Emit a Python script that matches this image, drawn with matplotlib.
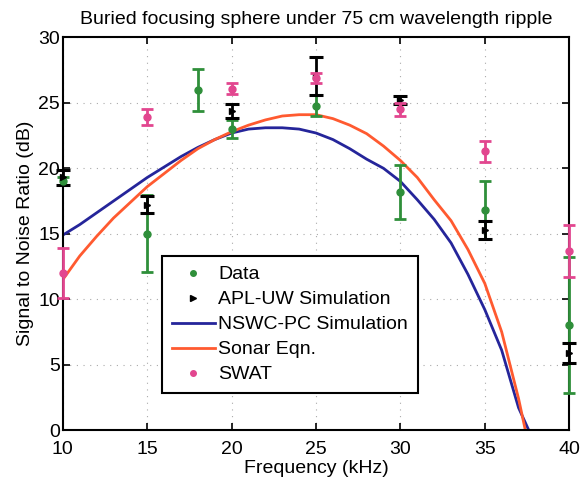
import numpy as np
import matplotlib
matplotlib.use("Agg")
import matplotlib.pyplot as plt
from matplotlib.lines import Line2D

plt.rcParams['font.family'] = ['Liberation Sans', 'DejaVu Sans']

# measured data (green)
data_f = [10, 15, 18, 20, 25, 30, 35, 40]
data_snr = [19.0, 15.0, 26.0, 23.0, 24.8, 18.2, 16.8, 8.0]
data_err = [0.3, 2.95, 1.6, 0.7, 0.8, 2.05, 2.2, 5.2]

# APL-UW simulation (black)
apl_f = [10, 15, 20, 25, 30, 35, 40]
apl_snr = [19.3, 17.2, 24.4, 27.05, 25.2, 15.3, 5.9]
apl_err = [0.6, 0.65, 0.55, 1.45, 0.3, 0.7, 0.75]

# SWAT (pink)
swat_f = [10, 15, 20, 25, 30, 35, 40]
swat_snr = [12.0, 23.9, 26.1, 26.9, 24.5, 21.3, 13.7]
swat_err = [1.9, 0.6, 0.45, 0.4, 0.5, 0.8, 2.0]

# NSWC-PC simulation curve (blue)
nswc_f = [10, 11, 12, 13, 14, 15, 16, 17, 18, 19, 20, 21, 22, 23, 24, 25,
          26, 27, 28, 29, 30, 31, 32, 33, 34, 35, 36, 37, 37.6]
nswc_snr = [14.9, 15.7, 16.6, 17.5, 18.4, 19.3, 20.1, 20.9, 21.6, 22.2, 22.7,
            23.0, 23.1, 23.1, 23.0, 22.7, 22.2, 21.5, 20.7, 20.0, 19.0, 17.6,
            16.1, 14.3, 11.9, 9.2, 6.1, 1.7, 0.0]

# sonar equation curve (orange)
sonar_f = [10, 11, 12, 13, 14, 15, 16, 17, 18, 19, 20, 21, 22, 23, 24, 25,
           26, 27, 28, 29, 30, 31, 32, 33, 34, 35, 36, 37, 37.4]
sonar_snr = [11.5, 13.3, 14.8, 16.2, 17.4, 18.6, 19.6, 20.6, 21.5, 22.2, 22.8,
             23.3, 23.7, 24.0, 24.1, 24.1, 23.8, 23.3, 22.65, 21.7, 20.6, 19.3,
             17.6, 16.0, 13.8, 11.2, 7.5, 2.4, 0.0]

green = '#2f8f3a'
blue = '#25259a'
orange = '#ff5a30'
pink = '#e2468f'

fig = plt.figure(figsize=(5.82, 4.87), dpi=100)
ax = fig.add_axes([0.108, 0.117, 0.87, 0.806])

ax.errorbar(data_f, data_snr, yerr=data_err, fmt='o', color=green, ms=5,
            elinewidth=2, capsize=4, capthick=2, clip_on=False, zorder=3)
ax.errorbar(apl_f, apl_snr, yerr=apl_err, fmt='>', color='black', ms=5,
            elinewidth=2, capsize=5, capthick=2.2, clip_on=False, zorder=3)
ax.plot(nswc_f, nswc_snr, color=blue, lw=2, zorder=2)
ax.plot(sonar_f, sonar_snr, color=orange, lw=2, zorder=2)
ax.errorbar(swat_f, swat_snr, yerr=swat_err, fmt='o', color=pink, ms=5,
            elinewidth=2, capsize=4, capthick=2, clip_on=False, zorder=4)

ax.set_xlim(10, 40)
ax.set_ylim(0, 30)
ax.set_xticks(np.arange(10, 41, 5))
ax.set_yticks(np.arange(0, 31, 5))
ax.grid(True, linestyle=(0, (1, 5)), color='#aaaaaa', lw=0.8)
ax.tick_params(direction='in', top=True, right=True, labelsize=14,
               length=5, width=1.2, pad=2)
ax.tick_params(axis='x', pad=8)
for s in ax.spines.values():
    s.set_linewidth(1.5)

ax.set_title('Buried focusing sphere under 75 cm wavelength ripple',
             fontsize=14, pad=10)
ax.set_xlabel('Frequency (kHz)', fontsize=14, labelpad=1)
ax.set_ylabel('Signal to Noise Ratio (dB)', fontsize=14, labelpad=3)

handles = [
    Line2D([], [], ls='none', marker='o', color=green, ms=4),
    Line2D([], [], ls='none', marker='>', color='black', ms=4),
    Line2D([], [], color=blue, lw=2),
    Line2D([], [], color=orange, lw=2),
    Line2D([], [], ls='none', marker='o', color=pink, ms=4),
]
labels = ['Data', 'APL-UW Simulation', 'NSWC-PC Simulation', 'Sonar Eqn.', 'SWAT']
leg = ax.legend(handles, labels, loc='lower left', bbox_to_anchor=(0.196, 0.094),
                fontsize=14, fancybox=False, edgecolor='black', framealpha=1,
                handlelength=2.2, handletextpad=0.2, borderpad=0.5,
                labelspacing=0.38, borderaxespad=0)
leg.get_frame().set_linewidth(1.5)

fig.savefig('out.png', dpi=100)
